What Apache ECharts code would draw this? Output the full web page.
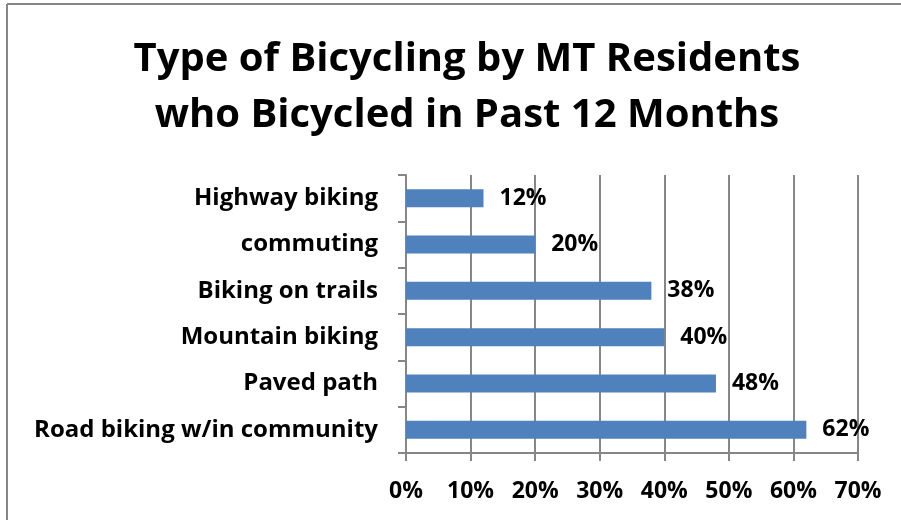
<!DOCTYPE html>
<html>
<head>
<meta charset="utf-8">
<script src="https://cdn.jsdelivr.net/npm/echarts@6/dist/echarts.min.js"></script>
<style>
  html, body { margin: 0; padding: 0; background: #fff; }
  #chart { width: 901px; height: 520px; }
</style>
</head>
<body>
<div id="chart"></div>
<script>
var categories = ["Highway biking", "commuting", "Biking on trails", "Mountain biking", "Paved path", "Road biking w/in community"];
var percents = [12, 20, 38, 40, 48, 62];
var xTicks = { min: 0, max: 70, step: 10 };

var font = "Open Sans";
var gray = "#868686";
var myChart = echarts.init(document.getElementById("chart"));
var options = {
  animation: false,
  backgroundColor: "#fff",
  title: {
    text: "Type of Bicycling by MT Residents\nwho Bicycled in Past 12 Months",
    left: 462,
    textAlign: "center",
    top: 27,
    textStyle: {
      fontFamily: font,
      fontWeight: "bold",
      fontSize: 40,
      lineHeight: 56,
      color: "#000",
    },
  },
  // frame of the original chart box
  graphic: [
    { type: "line", shape: { x1: 7, y1: 4, x2: 7, y2: 520 }, style: { stroke: gray, lineWidth: 2 } },
    { type: "line", shape: { x1: 7, y1: 4, x2: 901, y2: 4 }, style: { stroke: gray, lineWidth: 2 } },
  ],
  grid: { left: 406, right: 43, top: 175, bottom: 67 },
  xAxis: {
    type: "value",
    min: xTicks.min,
    max: xTicks.max,
    interval: xTicks.step,
    axisLine: { show: true, lineStyle: { color: gray, width: 2 } },
    axisTick: { show: true, length: 8, lineStyle: { color: gray, width: 2 } },
    splitLine: { show: true, lineStyle: { color: gray, width: 2 } },
    axisLabel: {
      formatter: "{value}%",
      margin: 27,
      color: "#000",
      fontFamily: font,
      fontWeight: "bold",
      fontSize: 23,
    },
  },
  yAxis: {
    type: "category",
    data: categories,
    inverse: true,
    axisLine: { show: true, lineStyle: { color: gray, width: 2 } },
    axisTick: { show: true, length: 8, lineStyle: { color: gray, width: 2 } },
    axisLabel: {
      margin: 28,
      color: "#000",
      fontFamily: font,
      fontWeight: "bold",
      fontSize: 24,
    },
  },
  series: [
    {
      type: "bar",
      data: percents,
      barWidth: 18,
      itemStyle: { color: "#4F81BD" },
      label: {
        show: true,
        position: "right",
        distance: 16,
        formatter: "{c}%",
        color: "#000",
        fontFamily: font,
        fontWeight: "bold",
        fontSize: 23,
      },
    },
  ],
};
myChart.setOption(options);
</script>
</body>
</html>
